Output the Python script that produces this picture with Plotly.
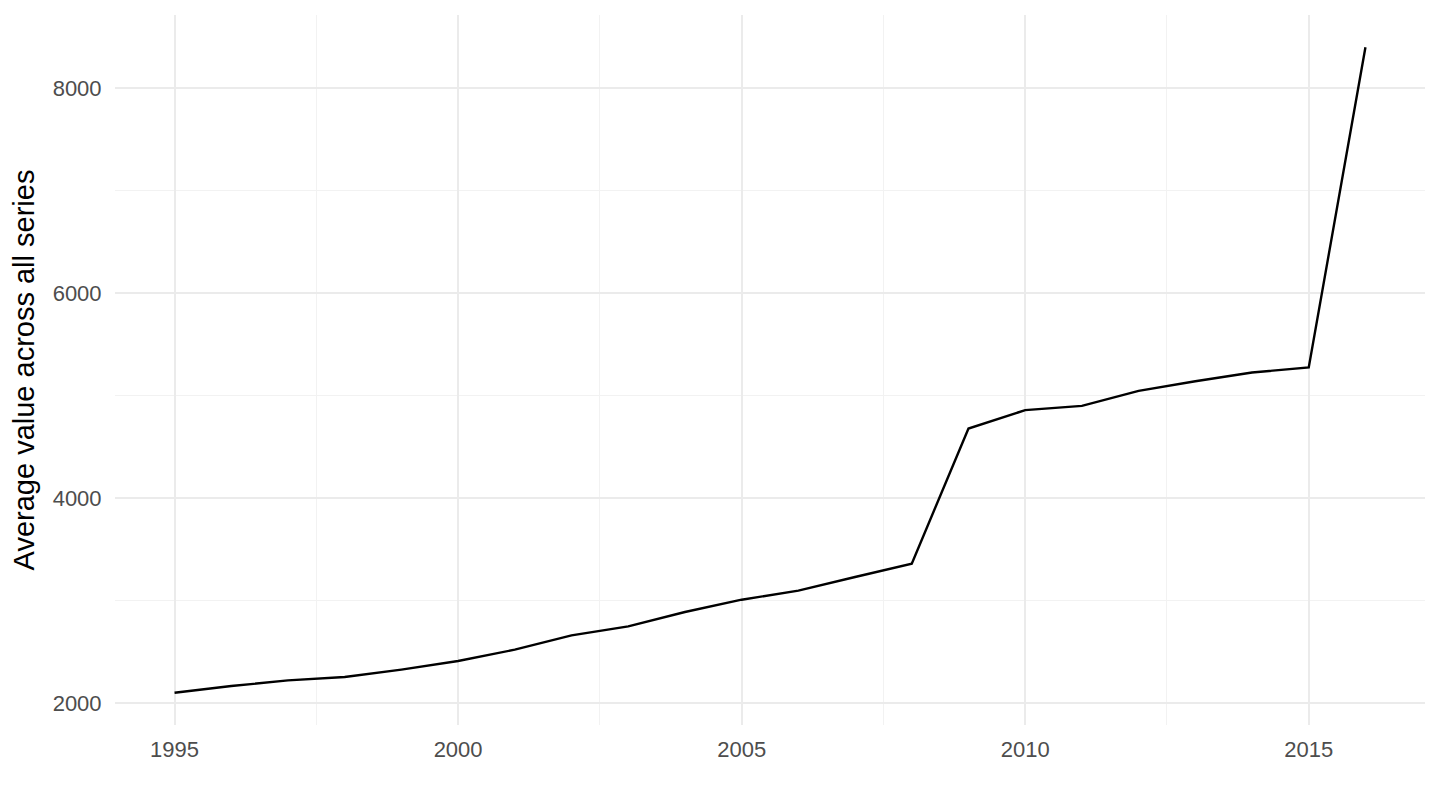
import plotly.graph_objects as go

# Yearly average across all series
years = list(range(1995, 2017))
avg_value = [
    2104, 2169, 2224, 2257, 2329, 2413, 2524, 2663, 2751, 2891, 3011,
    3099, 3232, 3363, 4680, 4859, 4901, 5047, 5141, 5226, 5275, 8397,
]

x_ticks = [1995, 2000, 2005, 2010, 2015]
y_ticks = [2000, 4000, 6000, 8000]

# ggplot-style 5% expansion of the data range
x_pad = (max(years) - min(years)) * 0.05
y_pad = (max(avg_value) - min(avg_value)) * 0.05

grid_major = "#EBEBEB"
grid_minor = "#F2F2F2"

fig = go.Figure()
fig.add_trace(
    go.Scatter(
        x=years,
        y=avg_value,
        mode="lines",
        line=dict(color="black", width=2.4),
        showlegend=False,
    )
)

# page body adds an 8px offset, so margins are shifted by that much
fig.update_layout(
    width=1440,
    height=810,
    paper_bgcolor="white",
    plot_bgcolor="white",
    margin=dict(l=107, r=23, t=7, b=93),
    font=dict(family="Liberation Sans, Arial, sans-serif", color="#4D4D4D", size=22),
)
fig.update_xaxes(
    range=[min(years) - x_pad, max(years) + x_pad],
    tickvals=x_ticks,
    ticks="outside",
    ticklen=5,
    tickcolor="rgba(0,0,0,0)",
    showline=False,
    zeroline=False,
    showgrid=True,
    gridcolor=grid_major,
    gridwidth=2.2,
    minor=dict(dtick=2.5, tick0=1992.5, showgrid=True, gridcolor=grid_minor, gridwidth=1.1),
)
fig.update_yaxes(
    range=[min(avg_value) - y_pad, max(avg_value) + y_pad],
    tickvals=y_ticks,
    ticks="outside",
    ticklen=8,
    tickcolor="rgba(0,0,0,0)",
    showline=False,
    zeroline=False,
    showgrid=True,
    gridcolor=grid_major,
    gridwidth=2.2,
    minor=dict(dtick=1000, tick0=1000, showgrid=True, gridcolor=grid_minor, gridwidth=1.1),
    title=dict(
        text="Average value across all series",
        font=dict(color="black", size=29),
        standoff=10,
    ),
)

fig.write_html("out.html")
